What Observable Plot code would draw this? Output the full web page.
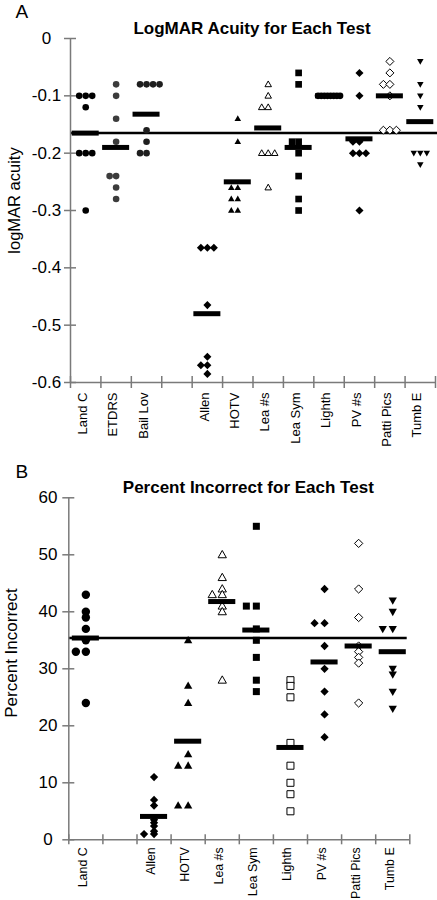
<!DOCTYPE html>
<html>
<head>
<meta charset="utf-8">
<script src="https://cdn.jsdelivr.net/npm/d3@7"></script>
<script src="https://cdn.jsdelivr.net/npm/@observablehq/plot@0.6"></script>
<style>
  body { margin: 0; background: #fff; }
  #chart svg { display: block; }
</style>
</head>
<body>
<div id="chart"></div>
<script>
// ---------- DATA ----------
// Panel A: LogMAR acuity ("" = empty slot on the axis)
const categoriesA = ["Land C", "ETDRS", "Bail Lov", "", "Allen", "HOTV", "Lea #s", "Lea Sym", "Lighth", "PV #s", "Patti Pics", "Tumb E"];
const landC_A   = [-0.1, -0.1, -0.1, -0.12, -0.2, -0.2, -0.2, -0.3];
const etdrs_A   = [-0.08, -0.1, -0.14, -0.18, -0.24, -0.24, -0.26, -0.28];
const bailLov_A = [-0.08, -0.08, -0.08, -0.08, -0.16, -0.18, -0.2, -0.2];
const allen_A   = [-0.365, -0.365, -0.365, -0.465, -0.555, -0.57, -0.57, -0.585];
const hotv_A    = [-0.14, -0.18, -0.26, -0.26, -0.28, -0.28, -0.3, -0.3];
const leaNum_A  = [-0.08, -0.1, -0.12, -0.12, -0.2, -0.2, -0.2, -0.26];
const leaSym_A  = [-0.06, -0.08, -0.18, -0.18, -0.2, -0.24, -0.28, -0.3];
const lighth_A  = [-0.1, -0.1, -0.1, -0.1, -0.1, -0.1, -0.1, -0.1];
const pv_A      = [-0.06, -0.1, -0.18, -0.18, -0.2, -0.2, -0.2, -0.3];
const patti_A   = [-0.04, -0.06, -0.08, -0.08, -0.1, -0.16, -0.16, -0.16];
const tumbE_A   = [-0.04, -0.08, -0.1, -0.12, -0.2, -0.2, -0.2, -0.22];
const meansA    = [-0.165, -0.19, -0.132, null, -0.48, -0.25, -0.156, -0.19, -0.1, -0.175, -0.1, -0.145];
const overallA  = -0.165;
const yTicksA   = [0, -0.1, -0.2, -0.3, -0.4, -0.5, -0.6];
const yTickLabelsA = ["0", "-0.1", "-0.2", "-0.3", "-0.4", "-0.5", "-0.6"];

// Panel B: Percent incorrect
const categoriesB = ["Land C", "", "Allen", "HOTV", "Lea #s", "Lea Sym", "Lighth", "PV #s", "Patti Pics", "Tumb E"];
const landC_B  = [43, 40, 39, 37, 35, 33, 33, 24];
const allen_B  = [11, 7, 6, 3.5, 3, 2.4, 1.5, 1, 1];
const hotv_B   = [35, 27, 24, 15, 13, 13, 6, 6];
const leaNum_B = [50, 46, 44, 43, 43, 41, 40, 28];
const leaSym_B = [55, 41, 41, 37, 35, 32, 28, 26];
const lighth_B = [28, 27, 25, 17, 13, 10, 8, 5];
const pv_B     = [44, 38, 38, 34, 30, 26, 22, 18];
const patti_B  = [52, 44, 39, 34, 33, 32, 31, 24];
const tumbE_B  = [42, 40, 37, 37, 30, 29, 26, 23];
const meansB   = [35.4, null, 4.1, 17.3, 41.8, 36.8, 16.2, 31.2, 34, 33];
const overallB = 35.4;
const yTicksB  = [0, 10, 20, 30, 40, 50, 60];
const yTickLabelsB = ["0", "10", "20", "30", "40", "50", "60"];

const seriesA = [landC_A, etdrs_A, bailLov_A, null, allen_A, hotv_A, leaNum_A, leaSym_A, lighth_A, pv_A, patti_A, tumbE_A];
const seriesB = [landC_B, null, allen_B, hotv_B, leaNum_B, leaSym_B, lighth_B, pv_B, patti_B, tumbE_B];

// ---------- SYMBOLS ----------
const poly = (pts) => ({
  draw(ctx, size) {
    const r = Math.sqrt(size / Math.PI);
    ctx.moveTo(pts[0][0] * r, pts[0][1] * r);
    for (let k = 1; k < pts.length; k++) ctx.lineTo(pts[k][0] * r, pts[k][1] * r);
    ctx.closePath();
  }
});
const triUp   = poly([[0, -1.1], [1.05, 0.75], [-1.05, 0.75]]);
const triDown = poly([[0, 1.1], [1.05, -0.75], [-1.05, -0.75]]);
const diamond = poly([[0, -1.15], [1.15, 0], [0, 1.15], [-1.15, 0]]);
const square  = poly([[-0.9, -0.9], [0.9, -0.9], [0.9, 0.9], [-0.9, 0.9]]);

const baseStyles = {
  "Land C":     {symbol: "circle", kind: "circle", fill: "#000"},
  "ETDRS":      {symbol: "circle", kind: "circle", fill: "#3c3c3c"},
  "Bail Lov":   {symbol: "circle", kind: "circle", fill: "#1e1e1e"},
  "Allen":      {symbol: diamond, kind: "diamond", fill: "#000"},
  "HOTV":       {symbol: triUp, kind: "tri", fill: "#000"},
  "Lea #s":     {symbol: triUp, kind: "tri", fill: "#fff", stroke: "#000"},
  "Lea Sym":    {symbol: square, kind: "square", fill: "#000"},
  "Lighth":     {symbol: "circle", kind: "circle", fill: "#000"},
  "PV #s":      {symbol: diamond, kind: "diamond", fill: "#000"},
  "Patti Pics": {symbol: diamond, kind: "diamond", fill: "#fff", stroke: "#000"},
  "Tumb E":     {symbol: triDown, kind: "tri", fill: "#000"}
};
const stylesB = Object.assign({}, baseStyles, {
  "Lighth": {symbol: square, kind: "square", fill: "#fff", stroke: "#000"}
});

const W = 437;
const AX = "#7a7a7a";
const FONT = "'Liberation Sans', Arial, Helvetica, sans-serif";

// spread equal values side by side within their slot
function spread(values, slot, stepPx, maxPx, slotPx) {
  const counts = d3.rollup(values, v => v.length, d => d);
  const seen = new Map();
  return values.map(v => {
    const n = counts.get(v);
    const i = seen.get(v) || 0;
    seen.set(v, i + 1);
    let idx = 0, step = stepPx;
    if (n >= 5) { step = Math.min(stepPx, maxPx / (n - 1)); idx = i - (n - 1) / 2; }
    else if (n >= 2) { idx = i - Math.max(1, Math.floor((n - 1) / 2)); }
    return {x: slot + 0.5 + (idx * step) / slotPx, y: v};
  });
}

function build(cfg) {
  const n = cfg.cats.length;
  const slotPx = (W - cfg.ml - cfg.mr) / n;
  const ymin = cfg.yDomain[0];
  const marks = [];

  // overall mean line
  marks.push(Plot.ruleY([cfg.overall], {stroke: "#000", strokeWidth: 2.5, insetRight: cfg.lineInsetRight}));

  // points
  cfg.series.forEach((vals, i) => {
    if (!vals) return;
    const st = cfg.styles[cfg.cats[i]];
    marks.push(Plot.dot(spread(vals, i, cfg.step, cfg.maxSpread, slotPx), {
      x: "x", y: "y", symbol: st.symbol, r: cfg.sizes[st.kind],
      fill: st.fill, stroke: st.stroke || "none", strokeWidth: 1
    }));
  });

  // mean bars
  const meanData = cfg.means.map((m, i) => ({i, m})).filter(d => d.m != null);
  marks.push(Plot.ruleY(meanData, {
    y: "m", x1: d => d.i, x2: d => d.i + 1,
    insetLeft: cfg.barInset, insetRight: cfg.barInset, stroke: "#000", strokeWidth: 5
  }));

  // axes lines and crossing ticks
  marks.push(Plot.ruleX([0], {x: d => d, stroke: AX, strokeWidth: 1.5}));
  marks.push(Plot.ruleY([ymin], {y: d => d, stroke: AX, strokeWidth: 1.5}));
  marks.push(Plot.ruleX(d3.range(n + 1), {
    x: d => d, y1: () => ymin, y2: () => ymin,
    insetTop: -cfg.tickLen, insetBottom: -cfg.tickLen, stroke: AX, strokeWidth: 1.5
  }));
  marks.push(Plot.ruleY(cfg.yTicks, {
    y: d => d, x1: () => 0, x2: () => 0,
    insetLeft: -6, insetRight: -6, stroke: AX, strokeWidth: 1.5
  }));

  // y tick labels
  marks.push(Plot.text(cfg.yTicks, {
    x: () => 0, y: d => d, text: (d, i) => cfg.yTickLabels[i],
    textAnchor: "middle", dx: cfg.tickLabelDx, fontSize: 17, fill: "#000"
  }));

  // category labels
  const catData = cfg.cats.map((name, i) => ({name, i})).filter(d => d.name !== "");
  marks.push(Plot.text(catData, {
    x: d => d.i + 0.5, y: () => ymin, text: "name", rotate: -90,
    textAnchor: "end", lineAnchor: "middle", dx: -3, dy: cfg.labelDy, fontSize: cfg.labelSize, fill: "#000"
  }));

  // title, panel letter, y label
  marks.push(Plot.text([cfg.title], {
    text: d => d, frameAnchor: "top", textAnchor: "middle", lineAnchor: "bottom",
    dx: cfg.titleDx, dy: cfg.titleDy, fontWeight: "bold", fontSize: 17, fill: "#000"
  }));
  marks.push(Plot.text([cfg.letter], {
    text: d => d, frameAnchor: "top-left", textAnchor: "start", lineAnchor: "bottom",
    dx: cfg.letterDx, dy: cfg.letterDy, fontSize: 19, fill: "#000"
  }));
  marks.push(Plot.text([cfg.ylabel], {
    text: d => d, frameAnchor: "left", rotate: -90, textAnchor: "middle", lineAnchor: "middle",
    dx: cfg.ylabelDx, dy: cfg.ylabelDy, fontSize: cfg.ylabelSize, fill: "#000"
  }));

  return Plot.plot({
    width: W, height: cfg.height,
    marginLeft: cfg.ml, marginRight: cfg.mr, marginTop: cfg.mt, marginBottom: cfg.mb,
    x: {domain: [0, n], axis: null},
    y: {domain: cfg.yDomain, axis: null},
    style: {fontFamily: FONT, background: "#fff", overflow: "visible"},
    marks
  });
}

const chartA = build({
  cats: categoriesA, series: seriesA, means: meansA, overall: overallA,
  styles: baseStyles, sizes: {circle: 3.3, tri: 3.1, diamond: 3.5, square: 3.7},
  step: 6.5, maxSpread: 22,
  yDomain: [-0.6, 0], yTicks: yTicksA, yTickLabels: yTickLabelsA,
  height: 445, ml: 70, mr: 2, mt: 38, mb: 63,
  lineInsetRight: -2, barInset: 1.7, tickLen: 6, tickLabelDx: -24, labelDy: 10, labelSize: 13,
  title: "LogMAR Acuity for Each Test", titleDx: -1, titleDy: -4.5,
  letter: "A", letterDx: -55, letterDy: -21,
  ylabel: "logMAR acuity", ylabelDx: -56, ylabelDy: -10, ylabelSize: 16.5
});

const chartB = build({
  cats: categoriesB, series: seriesB, means: meansB, overall: overallB,
  styles: stylesB, sizes: {circle: 4.2, tri: 3.95, diamond: 3.6, square: 3.9},
  step: 10, maxSpread: 28,
  yDomain: [0, 60], yTicks: yTicksB, yTickLabels: yTickLabelsB,
  height: 455, ml: 68.3, mr: 27.7, mt: 52.3, mb: 60.7,
  lineInsetRight: 2.6, barInset: 3.5, tickLen: 5, tickLabelDx: -20.8, labelDy: 7.5, labelSize: 12.4,
  title: "Percent Incorrect for Each Test", titleDx: 9, titleDy: -5,
  letter: "B", letterDx: -53.3, letterDy: -20.3,
  ylabel: "Percent Incorrect", ylabelDx: -57.3, ylabelDy: -15.8, ylabelSize: 17
});

const root = document.getElementById("chart");
root.appendChild(chartA);
root.appendChild(chartB);
</script>
</body>
</html>
